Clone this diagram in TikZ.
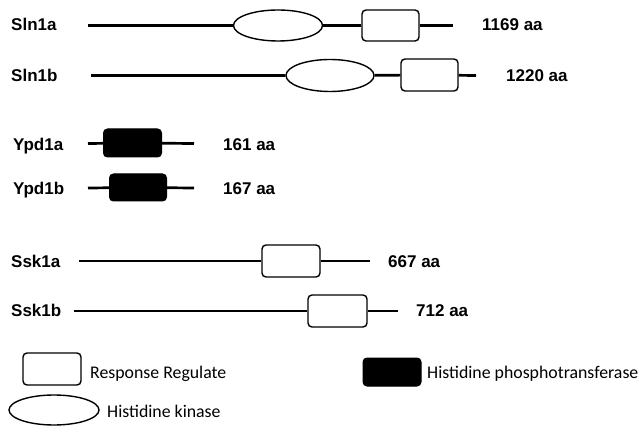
\documentclass[tikz,border=0pt]{standalone}
\usepackage{fontspec}
\setmainfont{Liberation Sans}
\newfontfamily\legfont{Carlito}
\usetikzlibrary{shapes.geometric}
\begin{document}
\begin{tikzpicture}[x=1pt,y=-1pt,
  lab/.style={font=\fontsize{17}{17}\selectfont\bfseries, inner sep=0pt, anchor=base west},
  rrbox/.style={draw, rounded corners=4pt, line width=1.4pt, fill=white, inner sep=0pt},
  hkell/.style={draw, ellipse, line width=1.4pt, fill=white, inner sep=0pt},
  hpbox/.style={draw, fill=black, rounded corners=4pt, line width=1pt, inner sep=0pt},
  chain/.style={line width=2.7pt},
  legt/.style={font=\legfont\fontsize{17.8}{17.8}\selectfont, inner sep=0pt, anchor=base west}]
\useasboundingbox (0,0) rectangle (644,427);

% Sln1a
\node[lab] (l1) at (11,31) {Sln1a};
\coordinate (s1) at (88,25.5);
\coordinate (e1) at (453,25.5);
\node[hkell, minimum width=89pt, minimum height=31pt] (k1) at (278,25.5) {};
\node[rrbox, minimum width=57pt, minimum height=31pt] (r1) at (390.5,25.5) {};
\draw[chain] (s1) -- (k1) (k1) -- (r1) (r1) -- (e1);
\node[lab] (n1) at (482,31) {1169 aa};

% Sln1b
\node[lab] (l2) at (11,81.5) {Sln1b};
\coordinate (s2) at (91,75.5);
\coordinate (e2) at (476,75.5);
\node[hkell, minimum width=88pt, minimum height=32pt] (k2) at (330,75.5) {};
\node[rrbox, minimum width=57pt, minimum height=32pt] (r2) at (429.5,75) {};
\draw[chain] (s2) -- (k2) (k2) -- (r2) (r2) -- (e2);
\node[lab] (n2) at (506,81.5) {1220 aa};

% Ypd1a
\node[lab] (l3) at (13,150.5) {Ypd1a};
\coordinate (s3) at (88,143.5);
\coordinate (e3) at (194,143.5);
\node[hpbox, minimum width=58pt, minimum height=28pt] (p3) at (132.5,143) {};
\draw[chain] (s3) -- (p3) (p3) -- (e3);
\node[lab] (n3) at (223,150.5) {161 aa};

% Ypd1b
\node[lab] (l4) at (13,194.5) {Ypd1b};
\coordinate (s4) at (88,188);
\coordinate (e4) at (194,188);
\node[hpbox, minimum width=57pt, minimum height=27pt] (p4) at (138,187.5) {};
\draw[chain] (s4) -- (p4) (p4) -- (e4);
\node[lab] (n4) at (223,194.5) {167 aa};

% Ssk1a
\node[lab] (l5) at (11,267.5) {Ssk1a};
\coordinate (s5) at (79,261);
\coordinate (e5) at (370,261);
\node[rrbox, minimum width=58pt, minimum height=32pt] (r5) at (291,261) {};
\draw[chain] (s5) -- (r5) (r5) -- (e5);
\node[lab] (n5) at (388,267.5) {667 aa};

% Ssk1b
\node[lab] (l6) at (11,316.5) {Ssk1b};
\coordinate (s6) at (74,311);
\coordinate (e6) at (398,311);
\node[rrbox, minimum width=59pt, minimum height=32pt] (r6) at (337.5,311) {};
\draw[chain] (s6) -- (r6) (r6) -- (e6);
\node[lab] (n6) at (416,316.5) {712 aa};

% Legend
\node[rrbox, minimum width=58pt, minimum height=32pt] (lr) at (52,369) {};
\node[legt] (lrt) at (90,378.5) {Response Regulate};
\node[hkell, minimum width=90pt, minimum height=30pt] (lk) at (54,410) {};
\node[legt] (lkt) at (107,417.5) {Histidine kinase};
\node[hpbox, minimum width=58pt, minimum height=28pt] (lp) at (392,372) {};
\node[legt] (lpt) at (427,378.5) {Histidine phosphotransferase};
\end{tikzpicture}
\end{document}
